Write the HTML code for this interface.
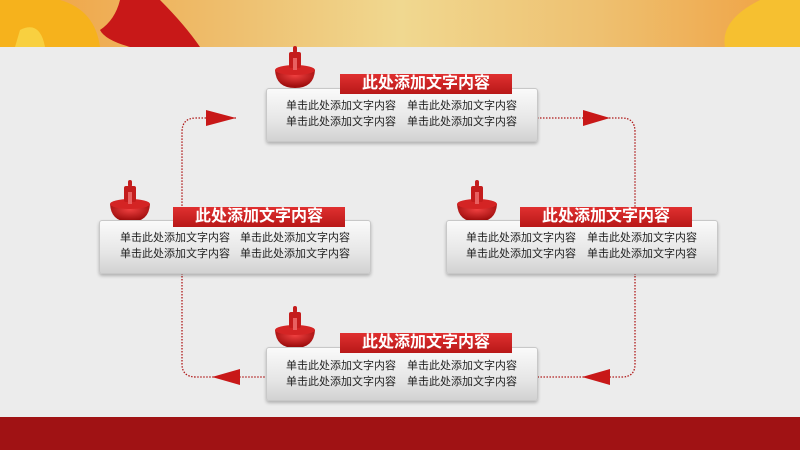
<!DOCTYPE html>
<html><head><meta charset="utf-8"><style>
body{margin:0;width:800px;height:450px;overflow:hidden;background:#ececec;position:relative;font-family:"Liberation Sans","Noto Sans CJK SC",sans-serif}
.hdr{position:absolute;left:0;top:0;width:800px;height:47px;background:linear-gradient(90deg,#f0a040 0%,#eec070 30%,#f0d890 50%,#eec070 75%,#f0a040 100%)}
.foot{position:absolute;left:0;top:417px;width:800px;height:33px;background:#a01214}
.box{position:absolute;width:270px;height:52px;border:1px solid #c8c8c8;border-radius:3px;background:linear-gradient(#fafafa,#e6e6e6 60%,#d2d2d2);box-shadow:0 2px 3px rgba(0,0,0,.25)}
.title{position:absolute;width:172px;height:20px;background:linear-gradient(#e03030,#b81818);color:#fff;font-weight:bold;font-size:16px;line-height:20px;text-align:center}
.t{position:absolute;font-size:11px;color:#222;line-height:16px;white-space:nowrap}
</style></head><body>
<div class="hdr"></div>
<svg style="position:absolute;left:0;top:0" width="800" height="450">
<defs>
<radialGradient id="g" cx="50%" cy="30%" r="60%"><stop offset="0" stop-color="#f04040"/><stop offset="1" stop-color="#a00e0e"/></radialGradient>
<g id="ic">
<path d="M0 0 Q1 18 20 18 Q39 18 40 0Z" fill="url(#g)"/>
<ellipse cx="20" cy="0" rx="20" ry="5" fill="#d42424"/>
<rect x="14" y="-18" width="12" height="16" rx="2" fill="#c41c1c"/>
<rect x="18" y="-24" width="4" height="7" rx="2" fill="#c41c1c"/>
<rect x="18" y="-12" width="4" height="12" fill="#e86060"/>
</g>
</defs>
<path d="M0 0 L60 0 Q95 10 100 47 L0 47Z" fill="#f6b21c"/>
<path d="M20 30 Q40 20 45 47 L15 47Z" fill="#f8d040"/>
<path d="M120 0 L160 0 Q185 25 200 47 L130 47 Q105 40 100 30 Q115 20 120 0Z" fill="#c81818"/>
<path d="M800 0 L760 0 Q720 20 725 47 L800 47Z" fill="#f6c030"/>
<g fill="none" stroke="#b01a1a" stroke-width="1.3" stroke-dasharray="1.5 1.5">
<path d="M236 118 L196 118 Q182 118 182 132 L182 220"/>
<path d="M537 118 L622 118 Q635 118 635 132 L635 220"/>
<path d="M635 273 L635 364 Q635 377 622 377 L537 377"/>
<path d="M182 273 L182 364 Q182 377 196 377 L266 377"/>
</g>
<g fill="#c81818">
<path d="M206 110 L236 118 L206 126Z"/>
<path d="M583 110 L610 118 L583 126Z"/>
<path d="M240 369 L212 377 L240 385Z"/>
<path d="M610 369 L582 377 L610 385Z"/>
</g>
<use href="#ic" x="275" y="70"/>
<use href="#ic" x="110" y="204"/>
<use href="#ic" x="457" y="204"/>
<use href="#ic" x="275" y="330"/>
</svg>
<div class="box" style="left:266px;top:88px"></div>
<div class="box" style="left:99px;top:220px"></div>
<div class="box" style="left:446px;top:220px"></div>
<div class="box" style="left:266px;top:347px"></div>
<div class="title" style="left:340px;top:74px">此处添加文字内容</div>
<div class="title" style="left:173px;top:207px">此处添加文字内容</div>
<div class="title" style="left:520px;top:207px">此处添加文字内容</div>
<div class="title" style="left:340px;top:333px">此处添加文字内容</div>
<div class="t" style="left:286px;top:98px">单击此处添加文字内容<br>单击此处添加文字内容</div>
<div class="t" style="left:407px;top:98px">单击此处添加文字内容<br>单击此处添加文字内容</div>
<div class="t" style="left:120px;top:230px">单击此处添加文字内容<br>单击此处添加文字内容</div>
<div class="t" style="left:240px;top:230px">单击此处添加文字内容<br>单击此处添加文字内容</div>
<div class="t" style="left:466px;top:230px">单击此处添加文字内容<br>单击此处添加文字内容</div>
<div class="t" style="left:587px;top:230px">单击此处添加文字内容<br>单击此处添加文字内容</div>
<div class="t" style="left:286px;top:358px">单击此处添加文字内容<br>单击此处添加文字内容</div>
<div class="t" style="left:407px;top:358px">单击此处添加文字内容<br>单击此处添加文字内容</div>
<div class="foot"></div>
</body></html>
